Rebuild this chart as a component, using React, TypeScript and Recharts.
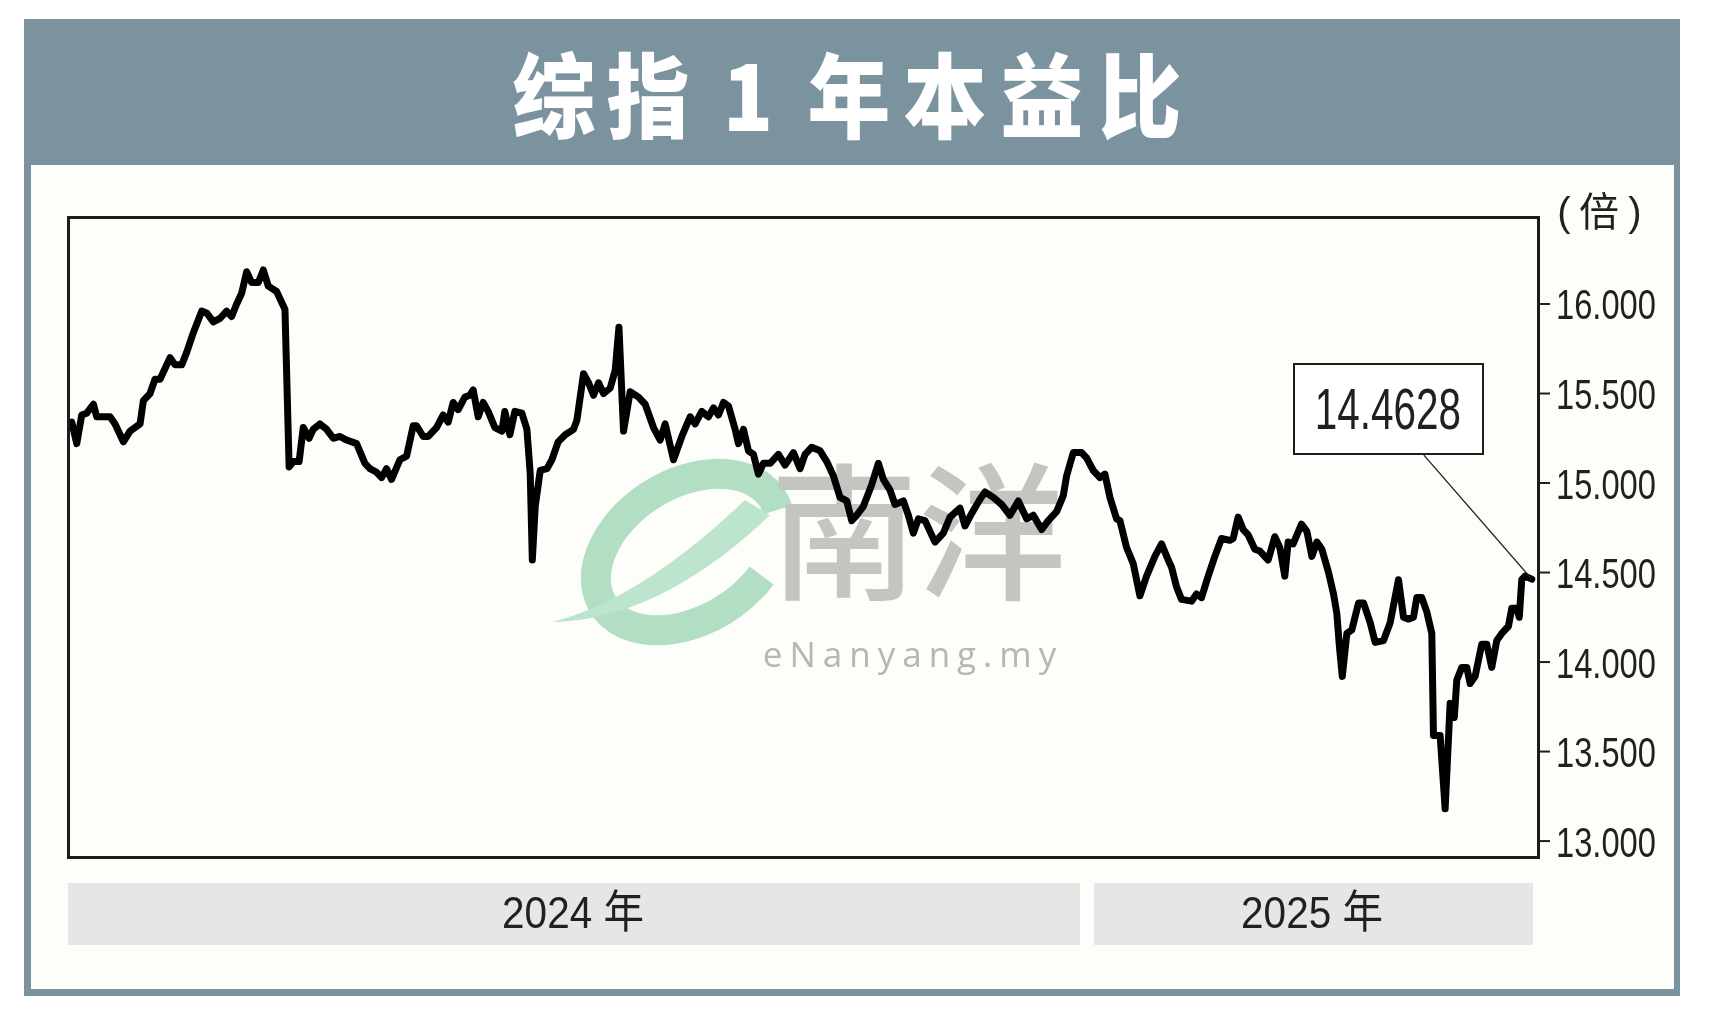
import React from 'react';
import { LineChart, Line, XAxis, YAxis, ReferenceLine } from 'recharts';

// trading-day index (0 = first trading day of 2024)
const days = [0,0.9,2.1,3.3,4.5,6.1,6.9,10.1,11.3,13.3,14.9,17.3,18.1,19.7,20.9,22.1,24.5,25.7,27.3,28.5,30.1,32.1,33.3,34.9,36.5,38.1,39.3,40.5,41.7,42.9,44.1,45.7,46.9,48.1,50.1,51.3,52.1,53.1,54.1,55.5,56.5,57.9,58.9,60.5,62.1,63.7,65.3,66.9,69.3,
71.3,72.5,74.1,75.3,76.5,77.7,79.7,81.3,82.9,83.7,85.3,86.5,88.5,90.1,91.3,92.5,93.7,95.3,96.5,97.3,98.5,99.7,100.9,102.5,104.2,104.9,106.1,107.3,109.0,110.2,111.0,111.5,112.2,113.4,115.0,116.2,117.7,119.4,121.4,122.2,123.8,125.0,126.2,127.4,128.6,130.2,131.4,132.3,133.4,135.0,137.0,
138.6,140.6,142.2,143.4,145.4,147.4,149.4,150.6,152.2,153.8,155.0,156.2,157.4,158.6,160.2,161.0,162.2,163.4,164.6,165.8,167.0,168.6,170.6,172.2,174.2,175.8,177.0,178.6,180.6,182.2,183.8,185.4,187.0,188.2,189.4,191.0,193.0,194.6,195.8,197.4,198.6,200.6,
201.8,203.0,204.2,205.8,208.2,210.2,211.8,214.2,215.4,217.0,219.0,220.2,222.2,224.2,226.2,228.2,230.2,231.8,233.8,235.4,237.4,239.0,239.8,241.4,243.4,244.6,246.2,247.8,249.0,250.2,251.8,252.6,254.2,255.8,257.4,259.0,261.0,262.6,264.2,265.0,266.2,267.4,269.8,271.0,272.2,273.8,275.4,277.0,279.0,279.8,281.0,282.2,283.4,285.0,286.2,288.2,289.8,291.0,292.2,293.0,294.2,296.2,297.5,298.7,299.9,301.1,302.7,303.9,304.7,305.3,306.0,307.1,308.3,309.9,311.1,312.7,313.9,315.9,317.5,319.5,320.7,321.9,323.1,323.9,325.1,326.3,327.5,327.9,329.5,330.7,331.9,332.9,333.5,334.7,335.9,336.7,337.9,339.5,340.7,341.9,343.1,344.3,345.9,346.7,347.9,348.5,349.1,349.9,351.5];

const pe = [15.335,15.34,15.22,15.38,15.39,15.44,15.37,15.37,15.33,15.23,15.29,15.33,15.46,15.50,15.58,15.58,15.70,15.66,15.66,15.73,15.84,15.96,15.95,15.90,15.92,15.96,15.93,16.00,16.06,16.18,16.12,16.12,16.19,16.10,16.07,16.01,15.97,15.09,15.12,15.12,15.31,15.25,15.30,15.33,15.30,15.25,15.26,15.24,15.22,
15.11,15.08,15.06,15.03,15.08,15.02,15.13,15.15,15.32,15.32,15.26,15.26,15.31,15.38,15.34,15.45,15.41,15.48,15.49,15.52,15.37,15.45,15.40,15.31,15.29,15.40,15.27,15.40,15.39,15.30,15.05,14.57,14.87,15.07,15.08,15.13,15.23,15.27,15.30,15.35,15.61,15.56,15.49,15.56,15.50,15.53,15.63,15.87,15.29,15.51,15.48,
15.44,15.31,15.24,15.33,15.13,15.26,15.37,15.33,15.40,15.37,15.42,15.38,15.45,15.43,15.30,15.22,15.30,15.18,15.16,15.05,15.11,15.11,15.16,15.10,15.17,15.08,15.16,15.20,15.18,15.12,15.04,14.92,14.90,14.79,14.82,14.87,14.99,15.11,15.02,14.96,14.88,14.90,
14.82,14.72,14.80,14.79,14.67,14.72,14.81,14.86,14.76,14.83,14.91,14.95,14.92,14.88,14.82,14.90,14.80,14.82,14.74,14.79,14.84,14.93,15.04,15.17,15.17,15.14,15.07,15.03,15.05,14.92,14.80,14.79,14.64,14.55,14.37,14.48,14.59,14.66,14.57,14.53,14.42,14.35,14.34,14.38,14.36,14.48,14.59,14.69,14.68,14.69,14.81,14.74,14.71,14.63,14.62,14.57,14.70,14.64,14.48,14.67,14.66,14.77,14.73,14.59,14.67,14.63,14.50,14.38,14.27,14.09,13.92,14.16,14.18,14.33,14.33,14.22,14.11,14.12,14.22,14.46,14.25,14.24,14.25,14.36,14.36,14.28,14.16,13.59,13.59,13.18,13.77,13.69,13.90,13.97,13.97,13.88,13.92,14.10,14.10,13.97,14.12,14.16,14.20,14.30,14.30,14.25,14.46,14.48,14.4628];

const yTicks = [13, 13.5, 14, 14.5, 15, 15.5, 16];
const yDomain = [12.911, 16.486];
const xDomain = [0, 353];
const years = ['2024 年', '2025 年'];
const title = ['综', '指', '1', '年', '本', '益', '比'];
const unitLabel = '倍';
const lastLabel = '14.4628';
// leader-line anchor (box bottom) in data units
const leaderStart = { x: 325.6, y: 15.156 };

const data = days.map((d, i) => ({ day: d, pe: pe[i] }));
const last = data[data.length - 1];

const W = 1718;
const H = 1026;
const YW = 140;

const YTick = (props: any) => {
  const { x, y, payload } = props;
  return (
    <text
      transform={`translate(${x},${y}) scale(0.76,1)`}
      x={0}
      y={0}
      dy="0.36em"
      textAnchor="start"
      fontSize={43}
      fontFamily="'Liberation Sans', Arial, sans-serif"
      fill="#231f20"
    >
      {Number(payload.value).toFixed(3)}
    </text>
  );
};

const titleX = [554, 648, 748, 849, 945, 1042, 1140];

export default function App() {
  return (
    <div style={{ position: 'absolute', left: 0, top: 0, width: W, height: H, background: '#ffffff', overflow: 'hidden' }}>
      {/* frame */}
      <div style={{ position: 'absolute', left: 24, top: 19, width: 1656, height: 977, background: '#7b939f' }} />
      <div style={{ position: 'absolute', left: 31, top: 165, width: 1643, height: 824, background: '#fdfdf9' }} />
      {/* year bars */}
      <div style={{ position: 'absolute', left: 68, top: 883, width: 1012, height: 62, background: '#e6e6e6' }} />
      <div style={{ position: 'absolute', left: 1094, top: 883, width: 439, height: 62, background: '#e6e6e6' }} />

      <svg width={W} height={H} style={{ position: 'absolute', left: 0, top: 0 }}>
        {title.map((c, i) => (
          <text
            key={i}
            transform={`translate(${titleX[i]},131) scale(0.9,1)`}
            textAnchor="middle"
            fontSize={92}
            fontWeight={900}
            fontFamily="'Noto Sans CJK SC', sans-serif"
            fill="#ffffff"
          >
            {c}
          </text>
        ))}
        <text x={1564} y={226} textAnchor="middle" fontSize={40} fontFamily="'Liberation Sans', Arial, sans-serif" fill="#231f20">(</text>
        <text x={1599} y={226} textAnchor="middle" fontSize={40} fontFamily="'Noto Sans CJK SC', sans-serif" fill="#231f20">{unitLabel}</text>
        <text x={1635} y={226} textAnchor="middle" fontSize={40} fontFamily="'Liberation Sans', Arial, sans-serif" fill="#231f20">)</text>
        <text transform="translate(573,928) scale(0.9,1)" textAnchor="middle" fontSize={45} fontFamily="'Liberation Sans', 'Noto Sans CJK SC', sans-serif" fill="#231f20">{years[0]}</text>
        <text transform="translate(1312,928) scale(0.9,1)" textAnchor="middle" fontSize={45} fontFamily="'Liberation Sans', 'Noto Sans CJK SC', sans-serif" fill="#231f20">{years[1]}</text>
      </svg>

      <div style={{ position: 'absolute', left: 0, top: 0 }}>
        <LineChart width={W} height={H} data={data} margin={{ top: 217, left: 68, right: W - 1538 - YW, bottom: H - 857 }}>
          <XAxis dataKey="day" type="number" domain={xDomain} hide allowDataOverflow />
          <YAxis
            orientation="right"
            type="number"
            domain={yDomain}
            ticks={yTicks}
            allowDataOverflow
            interval={0}
            width={YW}
            tickSize={12}
            tickMargin={6}
            axisLine={false}
            tickLine={{ stroke: '#231f20', strokeWidth: 2 }}
            tick={(p: any) => <YTick {...p} />}
          />
          <Line
            type="linear"
            dataKey="pe"
            stroke="#000000"
            strokeWidth={7}
            strokeLinejoin="round"
            strokeLinecap="round"
            dot={false}
            activeDot={false}
            isAnimationActive={false}
          />
          <ReferenceLine
            segment={[leaderStart, { x: last.day, y: last.pe }]}
            stroke="#231f20"
            strokeWidth={1.3}
            ifOverflow="visible"
          />
        </LineChart>
      </div>

      {/* plot box */}
      <div style={{ position: 'absolute', left: 66.5, top: 215.5, width: 1473, height: 643, border: '3px solid #1c1c1c', boxSizing: 'border-box', pointerEvents: 'none' }} />

      {/* watermark */}
      <svg width={W} height={H} style={{ position: 'absolute', left: 0, top: 0, mixBlendMode: 'multiply', pointerEvents: 'none' }}>
        <g transform="translate(688,552) rotate(-32)">
          <path d="M 50 58.9 A 100 68 0 1 1 98.5 11.8" fill="none" stroke="#b4e0c8" strokeWidth={30} />
        </g>
        <path d="M 552 622 Q 640 600 745 500 L 770 515 Q 660 620 552 622 Z" fill="#bfe6d1" />
        <text x={918} y={588} textAnchor="middle" fontSize={148} fontWeight={500} fontFamily="'Noto Sans CJK SC', sans-serif" fill="#c6c6c6">南洋</text>
        <text x={913} y={667} textAnchor="middle" fontSize={35} letterSpacing={7} fontFamily="'Open Sans', sans-serif" fill="#b8b8b8">eNanyang.my</text>
      </svg>

      {/* last value label */}
      <div style={{ position: 'absolute', left: 1293, top: 363, width: 191, height: 92, border: '2.5px solid #1c1c1c', boxSizing: 'border-box', background: '#ffffff' }} />
      <svg width={W} height={H} style={{ position: 'absolute', left: 0, top: 0, pointerEvents: 'none' }}>
        <text transform="translate(1388,429) scale(0.71,1)" textAnchor="middle" fontSize={57} fontFamily="'Liberation Sans', Arial, sans-serif" fill="#231f20">{lastLabel}</text>
      </svg>
    </div>
  );
}
